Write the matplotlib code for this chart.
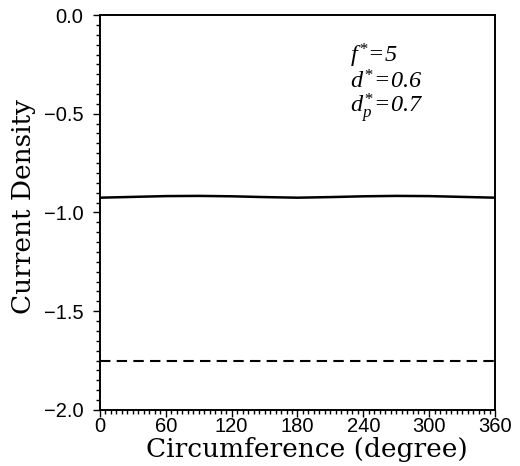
import matplotlib
matplotlib.use("Agg")
import matplotlib.pyplot as plt
from matplotlib.ticker import MultipleLocator

# data
circ_deg = [0, 30, 60, 90, 120, 150, 180, 210, 240, 270, 300, 330, 360]
density_solid = [-0.925, -0.921, -0.917, -0.916, -0.918, -0.922, -0.925,
                 -0.922, -0.918, -0.916, -0.917, -0.921, -0.925]
circ_dash = [0, 360]
density_dash = [-1.75, -1.75]

x_ticks = [0, 60, 120, 180, 240, 300, 360]
y_ticks = [0.0, -0.5, -1.0, -1.5, -2.0]
y_tick_labels = ["0.0", "\u22120.5", "\u22121.0", "\u22121.5", "\u22122.0"]

plt.rcParams["mathtext.fontset"] = "custom"
plt.rcParams["mathtext.it"] = "Liberation Serif:italic"
plt.rcParams["mathtext.rm"] = "Liberation Serif:italic"

fig = plt.figure(figsize=(5.2, 4.66), dpi=100)
ax = fig.add_axes([0.1923, 0.1202, 0.7596, 0.8476])

ax.plot(circ_deg, density_solid, color="black", linewidth=1.8)
ax.plot(circ_dash, density_dash, color="black", linewidth=1.5,
        linestyle=(0, (5, 3)))

ax.set_xlim(0, 360)
ax.set_ylim(-2.0, 0.0)
ax.set_xticks(x_ticks)
ax.set_yticks(y_ticks)
ax.set_yticklabels(y_tick_labels)
ax.xaxis.set_minor_locator(MultipleLocator(5))
ax.yaxis.set_minor_locator(MultipleLocator(0.05))

ax.tick_params(which="both", direction="out", top=False, right=False,
               width=1.0, labelsize=14.5)
ax.tick_params(which="major", length=5)
ax.tick_params(which="minor", length=3)
ax.tick_params(axis="x", pad=0)
ax.tick_params(axis="y", pad=7)
for lbl in ax.get_xticklabels() + ax.get_yticklabels():
    lbl.set_family("Liberation Sans")

for sp in ax.spines.values():
    sp.set_linewidth(1.4)

# axis titles in a slab serif
fig.text(0.591, 0.019, "Circumference (degree)", family="DejaVu Serif",
         fontsize=19, ha="center", va="baseline")
fig.text(0.045, 0.556, "Current Density", family="DejaVu Serif",
         fontsize=19, ha="center", va="center", rotation=90)

txt_kw = dict(transform=ax.transAxes, fontsize=17.5, ha="left", va="baseline")
ax.text(0.633, 0.88, r"$f^{*}\!=\!5$", **txt_kw)
ax.text(0.633, 0.815, r"$d^{*}\!=\!0.6$", **txt_kw)
ax.text(0.633, 0.752, r"$d_{p}^{*}\!=\!0.7$", **txt_kw)

fig.savefig("out.png", dpi=100)
